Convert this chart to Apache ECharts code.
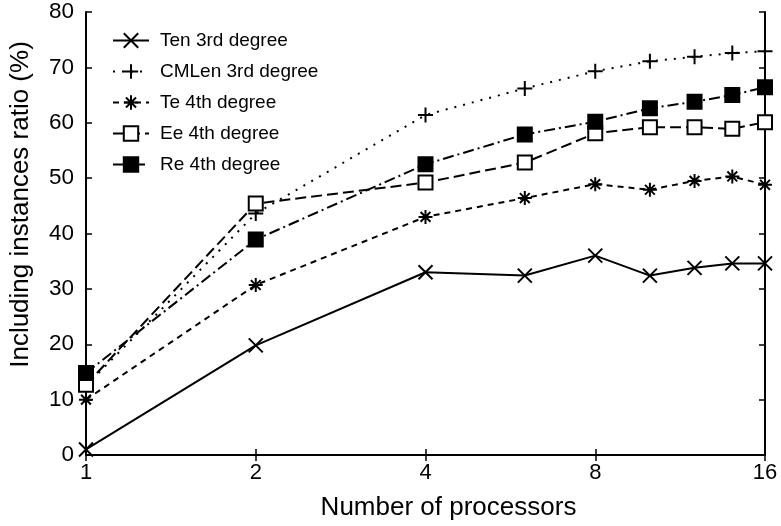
<!DOCTYPE html>
<html>
<head>
<meta charset="utf-8">
<script src="https://cdn.jsdelivr.net/npm/echarts@6/dist/echarts.min.js"></script>
<style>
    html, body { margin: 0; padding: 0; background: #fff; }
    #chart { width: 781px; height: 526px; }
</style>
</head>
<body>
<div id="chart"></div>
<script>
    // processors (log2 axis)
    const procs = [1, 2, 4, 6, 8, 10, 12, 14, 16];
    const xTicks = [1, 2, 4, 8, 16];
    const yTicks = [0, 10, 20, 30, 40, 50, 60, 70, 80];

    const tenData   = [1, 19.8, 33, 32.4, 36, 32.4, 33.8, 34.6, 34.6];
    const cmlenData = [12.5, 43.6, 61.4, 66.2, 69.3, 71.1, 71.9, 72.6, 72.9];
    const teData    = [10, 30.7, 43, 46.4, 48.9, 47.9, 49.5, 50.3, 48.8];
    const eeData    = [12.7, 45.4, 49.2, 52.8, 58.1, 59.2, 59.2, 58.9, 60.1];
    const reData    = [14.8, 38.9, 52.5, 57.9, 60.2, 62.6, 63.8, 65, 66.4];

    const names = ['Ten 3rd degree', 'CMLen 3rd degree', 'Te 4th degree', 'Ee 4th degree', 'Re 4th degree'];

    const FONT = '"Liberation Sans", Arial, Helvetica, sans-serif';

    function pairs(vals) {
        return procs.map((p, i) => [p, vals[i]]);
    }

    const symX = 'path://M0,0L10,10M10,0L0,10';
    const symPlus = 'path://M5,0L5,10M0,5L10,5';
    const symStar = 'path://M5,0L5,10M0,5L10,5M1.5,1.5L8.5,8.5M1.5,8.5L8.5,1.5';

    const chart = echarts.init(document.getElementById('chart'));

    function lineSeries(name, vals, dash, symbol, size, fill) {
        return {
            name: name,
            type: 'line',
            data: pairs(vals),
            symbol: symbol,
            symbolSize: size,
            lineStyle: { color: '#000', width: 2, type: dash },
            itemStyle: { color: fill, borderColor: '#000', borderWidth: 2 },
            emphasis: { disabled: true }
        };
    }

    chart.setOption({
        animation: false,
        backgroundColor: '#fff',
        textStyle: { fontFamily: FONT, color: '#000' },
        grid: { left: 85, right: 16, top: 12, bottom: 71 },
        legend: {
            orient: 'vertical',
            left: 107,
            top: 26,
            itemWidth: 36,
            itemHeight: 18,
            itemGap: 12,
            data: names,
            textStyle: { fontFamily: FONT, fontSize: 19, color: '#000', padding: [0, 0, 0, 6] }
        },
        xAxis: [{
            type: 'log',
            logBase: 2,
            min: 1,
            max: 16,
            name: 'Number of processors',
            nameLocation: 'middle',
            nameGap: 40,
            nameTextStyle: { fontFamily: FONT, fontSize: 26, color: '#000', padding: [0, 0, 0, 46] },
            axisLine: { lineStyle: { color: '#000', width: 2 } },
            axisTick: { inside: true, length: 6, lineStyle: { width: 1.5 } },
            axisLabel: {
                fontFamily: FONT, fontSize: 22, color: '#000', margin: 7,
                formatter: v => xTicks.indexOf(v) >= 0 ? String(v) : ''
            },
            splitLine: { show: false },
            minorTick: { show: false }
        }, {
            type: 'log',
            logBase: 2,
            min: 1,
            max: 16,
            position: 'top',
            axisLine: { lineStyle: { color: '#000', width: 2 } },
            axisTick: { inside: true, length: 6, lineStyle: { width: 1.5 } },
            axisLabel: { show: false },
            splitLine: { show: false }
        }],
        yAxis: [{
            type: 'value',
            min: yTicks[0],
            max: yTicks[yTicks.length - 1],
            interval: 10,
            name: 'Including instances ratio (%)',
            nameLocation: 'middle',
            nameGap: 52,
            nameTextStyle: { fontFamily: FONT, fontSize: 26, color: '#000', padding: [0, 0, 0, 58] },
            axisLine: { show: true, lineStyle: { color: '#000', width: 2 } },
            axisTick: { show: true, inside: true, length: 6, lineStyle: { width: 1.5 } },
            axisLabel: { fontFamily: FONT, fontSize: 22.5, color: '#000', margin: 12 },
            splitLine: { show: false }
        }, {
            type: 'value',
            min: yTicks[0],
            max: yTicks[yTicks.length - 1],
            interval: 10,
            position: 'right',
            axisLine: { show: true, lineStyle: { color: '#000', width: 2 } },
            axisTick: { show: true, inside: true, length: 6, lineStyle: { width: 1.5 } },
            axisLabel: { show: false },
            splitLine: { show: false }
        }],
        series: [
            lineSeries(names[0], tenData, 'solid', symX, 14, '#000'),
            lineSeries(names[1], cmlenData, [2, 7], symPlus, 15, '#000'),
            lineSeries(names[2], teData, [6, 5], symStar, 14, '#000'),
            lineSeries(names[3], eeData, [11, 5], 'rect', 14, '#fff'),
            lineSeries(names[4], reData, [11, 4, 2, 4], 'rect', 14, '#000')
        ]
    });
</script>
</body>
</html>
